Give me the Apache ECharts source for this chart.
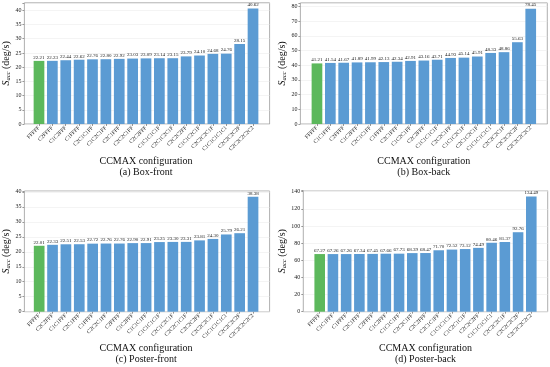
<!DOCTYPE html>
<html><head><meta charset="utf-8">
<script src="https://cdn.jsdelivr.net/npm/echarts@6/dist/echarts.min.js"></script>
<style>html,body{margin:0;padding:0;background:#fff}#c{width:550px;height:367px}</style>
</head><body><div id="c"></div>
<script>
// ---- data ----
var catsA = ['FFFFF','C2FFFF','C1C2FFF','C1FFFF','C2C1C1FF','C1C2C1FF','C2C1FFF','C2C2C1FF','C2C2FFF','C1C1C1C1F','C2C1C2C1F','C2C2C2FF','C1C1C2C1F','C2C2C2C1F','C1C1C1C1C1','C2C2C2C2F','C2C2C2C2C2'];
var valsA = [22.21,22.23,22.44,22.62,22.76,22.80,22.92,23.03,23.09,23.14,23.15,23.79,24.10,24.68,24.76,28.15,40.62];
var catsB = ['FFFFF','C1C1FFF','C2FFFF','C1C2FFF','C2C1C1FF','C1FFFF','C2C1FFF','C1C2C1FF','C2C2FFF','C1C1C1C1F','C2C2C1FF','C1C1C2C1F','C2C1C2C1F','C1C1C1C1C1','C2C2C2C1F','C2C2C2C2F','C2C2C2C2C2'];
var valsB = [41.21,41.54,41.67,41.89,41.99,42.13,42.34,42.91,43.16,43.71,44.93,45.14,45.91,48.33,48.86,55.63,78.45];
var catsC = ['FFFFF','C2C2FFF','C1C1FFF','C2C1FFF','C1FFFF','C2C2C1FF','C2FFFF','C1C2FFF','C1C1C1FF','C1C1C1C1F','C2C1C2C1F','C2C2C1C1F','C2C2C2FF','C2C2C2C1F','C1C1C1C1C1','C2C2C2C2F','C2C2C2C2C2'];
var valsC = [22.01,22.33,22.51,22.53,22.72,22.76,22.76,22.90,22.91,23.25,23.30,23.31,23.81,24.30,25.79,26.21,38.38];
var catsD = ['FFFFF','C1C1FFF','C1FFFF','C2C1FFF','C2FFFF','C1C2FFF','C1C1C1FF','C2C2C1FF','C2C2FFF','C2C1C1FF','C1C1C1C1F','C1C2C1C1F','C2C2C2FF','C1C1C1C1C1','C2C2C2C1F','C2C2C2C2F','C2C2C2C2C2'];
var valsD = [67.27,67.26,67.26,67.34,67.45,67.66,67.73,68.39,68.47,71.70,72.52,73.12,74.49,80.46,81.37,92.76,134.49];
var titles = ['(a) Box-front','(b) Box-back','(c) Poster-front','(d) Poster-back'];
var xTitle = 'CCMAX configuration';
var yIntervals = [5,10,5,20];

var SERIF = "'Liberation Serif','DejaVu Serif',serif";
var BLUE = '#5b9bd3', GREEN = '#5cb85c';

var panels = [
  {cats:catsA, vals:valsA, left:22.4, top:2.8, width:247.2, height:121.2},
  {cats:catsB, vals:valsB, left:300.4, top:2.9, width:246.9, height:121.1},
  {cats:catsC, vals:valsC, left:22.6, top:191.0, width:247.0, height:120.7},
  {cats:catsD, vals:valsD, left:303.3, top:190.7, width:244.4, height:121.0}
];

var grids=[], xAxes=[], yAxes=[], series=[], graphics=[];
panels.forEach(function(p, k){
  var n = p.cats.length;
  var unit = p.width / (n - 0.2 + 2*0.84);
  var yMax = Math.max.apply(null, p.vals) * 1.05;
  var step = yIntervals[k];
  var innerLeft = p.left + (1.24 - 0.5) * unit;
  var innerWidth = n * unit;
  // outer grid (frame + y axis)
  grids.push({left:p.left, top:p.top, width:p.width, height:p.height, show:true, borderColor:'#9a9a9a', borderWidth:0.8, containLabel:false});
  var og = grids.length-1;
  xAxes.push({type:'value', gridIndex:og, min:0, max:1, show:false});
  yAxes.push({type:'value', gridIndex:og, min:0, max:yMax, interval:step, showMaxLabel:false,
    axisLine:{show:false}, axisTick:{show:true, length:2, lineStyle:{color:'#555', width:0.6}},
    axisLabel:{fontSize:6, fontFamily:SERIF, color:'#222', margin:3, hideOverlap:false,
      formatter:function(v){ return (Math.abs(v/step - Math.round(v/step)) < 1e-6) ? String(Math.round(v)) : ''; }},
    splitLine:{show:true, lineStyle:{color:'#ececec', width:0.6}},
    name:'{s|S}{sub|acc}{t| (deg/s)}', nameLocation:'middle', nameGap:10,
    nameTextStyle:{rich:{
      s:{fontSize:10, fontFamily:SERIF, fontStyle:'italic', color:'#111'},
      sub:{fontSize:6.5, fontFamily:SERIF, fontStyle:'italic', color:'#111', verticalAlign:'bottom', padding:[4,0,0,0]},
      t:{fontSize:10, fontFamily:SERIF, color:'#111'}
    }}
  });
  // inner grid (bars)
  grids.push({left:innerLeft, top:p.top, width:innerWidth, height:p.height, show:false});
  var ig = grids.length-1;
  xAxes.push({type:'category', gridIndex:ig, data:p.cats, boundaryGap:true,
    axisLine:{show:false}, axisTick:{show:true, alignWithLabel:true, length:2, lineStyle:{color:'#555', width:0.6}},
    axisLabel:{rotate:45, fontSize:5.6, fontFamily:SERIF, color:'#222', margin:3, interval:0}});
  yAxes.push({type:'value', gridIndex:ig, min:0, max:yMax, show:false, splitLine:{show:false}});
  series.push({type:'bar', xAxisIndex:xAxes.length-1, yAxisIndex:yAxes.length-1,
    barWidth:'80%',
    data:p.vals.map(function(v,i){ return i===0 ? {value:v, itemStyle:{color:GREEN}} : v; }),
    itemStyle:{color:BLUE},
    label:{show:true, position:'top', distance:1, fontSize:5, fontFamily:SERIF, color:'#222',
      formatter:function(d){ return d.value.toFixed(2); }},
    animation:false, silent:true});
  var cx = p.left + p.width/2;
  var bottom = p.top + p.height;
  graphics.push({type:'text', style:{text:xTitle, font:'10px '+SERIF, fill:'#111', textAlign:'center', textVerticalAlign:'middle'}, x:cx, y:bottom+37});
  graphics.push({type:'text', style:{text:titles[k], font:'10px '+SERIF, fill:'#111', textAlign:'center', textVerticalAlign:'middle'}, x:cx, y:bottom+48});
});

var chart = echarts.init(document.getElementById('c'), null, {renderer:'canvas'});
chart.setOption({animation:false, grid:grids, xAxis:xAxes, yAxis:yAxes, series:series, graphic:graphics});
</script></body></html>
